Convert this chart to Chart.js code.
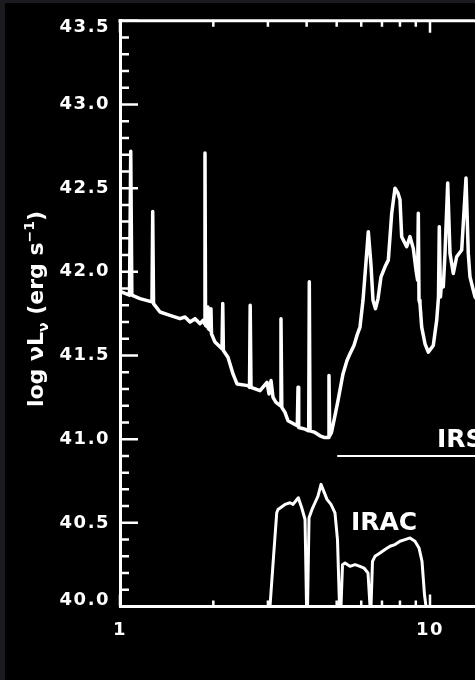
<!DOCTYPE html>
<html>
<head>
<meta charset="utf-8">
<script src="https://cdn.jsdelivr.net/npm/chart.js@4/dist/chart.umd.min.js"></script>
<style>
  html, body { margin: 0; padding: 0; background: #000; overflow: hidden; width: 475px; height: 680px; }
  #wrap { position: relative; width: 475px; height: 680px; overflow: hidden; }
  #c { position: absolute; left: 0; top: 0; }
  #edge { position: absolute; left: 0; top: 0; width: 475px; height: 680px; box-sizing: border-box;
          border-top: 3px solid #1b1b1f; border-left: 5px solid #1b1b1f; pointer-events: none; }
</style>
</head>
<body>
<div id="wrap"><canvas id="c" width="660" height="680"></canvas><div id="edge"></div></div>
<script>
// Spectrum: wavelength (micron) and log nu L_nu (erg/s)
const specWave = [1.01, 1.073, 1.083, 1.092, 1.160, 1.268, 1.275, 1.283, 1.346, 1.449, 1.561, 1.621, 1.682, 1.746,
  1.812, 1.852, 1.873, 1.880, 1.888, 1.915, 1.922, 1.929, 1.958, 1.965, 1.973, 2.025, 2.133, 2.145, 2.155, 2.230,
  2.315, 2.385, 2.588, 2.617, 2.630, 2.646, 2.829, 2.980, 3.025, 3.070, 3.116, 3.186, 3.289, 3.306, 3.326, 3.406,
  3.483, 3.732, 3.752, 3.771, 3.953, 4.062, 4.080, 4.102, 4.256, 4.417, 4.550, 4.698, 4.722, 4.750, 4.811, 4.937,
  5.049, 5.240, 5.398, 5.519, 5.685, 5.813, 5.945, 6.080, 6.217, 6.324, 6.452, 6.548, 6.672, 6.797, 6.950, 7.159,
  7.337, 7.525, 7.711, 7.885, 8.002, 8.103, 8.409, 8.619, 8.833, 9.013, 9.120, 9.168, 9.216, 9.284, 9.402, 9.636,
  9.875, 10.247, 10.510, 10.651, 10.715, 10.811, 10.907, 11.038, 11.179, 11.405, 11.601, 11.890, 12.192, 12.655,
  13.065, 13.289, 13.459, 13.795, 13.97, 14.50];
const specLum = [41.88, 41.86, 42.72, 41.86, 41.84, 41.82, 42.36, 41.81, 41.76, 41.74, 41.72, 41.73, 41.70, 41.72,
  41.69, 41.71, 41.69, 42.71, 41.68, 41.67, 41.79, 41.66, 41.65, 41.78, 41.63, 41.58, 41.54, 41.81, 41.53, 41.49,
  41.39, 41.33, 41.32, 41.31, 41.80, 41.31, 41.29, 41.34, 41.27, 41.35, 41.25, 41.22, 41.20, 41.72, 41.19, 41.16,
  41.11, 41.08, 41.31, 41.07, 41.06, 41.05, 41.94, 41.05, 41.04, 41.02, 41.01, 41.01, 41.38, 41.02, 41.04, 41.14,
  41.23, 41.39, 41.47, 41.51, 41.56, 41.62, 41.67, 41.83, 42.06, 42.24, 42.04, 41.83, 41.78, 41.84, 41.97, 42.03,
  42.07, 42.35, 42.50, 42.47, 42.43, 42.21, 42.15, 42.21, 42.14, 42.01, 41.95, 42.35, 41.83, 41.81, 41.67, 41.57,
  41.52, 41.56, 41.71, 41.85, 42.27, 41.85, 41.95, 41.91, 42.11, 42.53, 42.11, 41.99, 42.09, 42.13,
  42.56, 42.11, 41.97, 41.89, 41.85, 41.81];

// IRAC filter curves (four bands), plotted on the same axes
const iracWave = [3.047, 3.123, 3.203, 3.234, 3.406, 3.535, 3.615, 3.760, 3.856, 3.953, 3.997,
  4.027, 4.072, 4.163, 4.256, 4.352, 4.451, 4.517, 4.653, 4.793, 4.937, 5.030, 5.106,
  5.163, 5.221, 5.319, 5.519, 5.730, 5.945, 6.125, 6.310, 6.405,
  6.452, 6.524, 6.646, 6.898, 7.159, 7.430, 7.711, 8.002, 8.306, 8.619, 8.944, 9.216, 9.424, 9.600, 9.708];
const iracResp = [40.00, 40.28, 40.56, 40.58, 40.61, 40.62, 40.61, 40.65, 40.59, 40.52, 40.00,
  40.00, 40.53, 40.58, 40.62, 40.66, 40.73, 40.70, 40.64, 40.61, 40.56, 40.40, 40.00,
  40.00, 40.25, 40.26, 40.24, 40.25, 40.24, 40.23, 40.20, 40.00,
  40.00, 40.27, 40.30, 40.32, 40.34, 40.36, 40.37, 40.39, 40.40, 40.41, 40.39, 40.35, 40.27, 40.07, 40.00];

// IRS coverage bar
const irsWave = [5.05, 40];
const irsLevel = [40.90, 40.90];

// Axis ranges and labels
const xRange = [1, 40];
const yRange = [40.0, 43.5];
const xTickLabels = [1, 10];
const yTitleParts = ['log \u03bdL', '\u03bd', ' (erg s', '\u22121', ')'];

// Text labels placed in data coordinates
const noteText = ['IRAC', 'IRS'];
const noteWave = [7.11, 10.53];
const noteLum = [40.456, 40.952];

const W = 660, H = 680;
const LEFT = 120, TOP = 20.5, BOTTOM = 606.5;
const RIGHT = LEFT + 310 * Math.log10(xRange[1] / xRange[0]);
const FONT = '"DejaVu Sans", "Liberation Sans", sans-serif';

const toPts = (xs, ys) => xs.map((x, i) => ({ x, y: ys[i] }));
const isMajorY = v => Math.abs(v * 2 - Math.round(v * 2)) < 1e-6;
const isDecade = v => Math.abs(Math.log10(v) - Math.round(Math.log10(v))) < 1e-6;

// Inward ticks on all four sides plus the closing frame lines
const framePlugin = {
  id: 'frameTicks',
  beforeDraw(chart) {
    const ctx = chart.ctx;
    ctx.save();
    ctx.fillStyle = '#000';
    ctx.fillRect(0, 0, chart.width, chart.height);
    ctx.restore();
    // nudge the end labels of the y axis inside the frame
    const items = chart.scales.y.getLabelItems();
    items.forEach(it => {
      if (it._nudged) return;
      if (it.label === yRange[1].toFixed(1)) it.options.translation[1] += 7;
      if (it.label === yRange[0].toFixed(1)) it.options.translation[1] -= 6;
      it._nudged = true;
    });
    ctx.letterSpacing = '1.5px';
  },
  beforeDatasetsDraw(chart) {
    chart.ctx.letterSpacing = '0px';
  },
  afterDraw(chart) {
    const ctx = chart.ctx;
    const { left, right, top, bottom } = chart.chartArea;
    const xs = chart.scales.x, ys = chart.scales.y;
    ctx.save();
    ctx.strokeStyle = '#fff';
    ctx.lineCap = 'butt';
    // frame top and right
    ctx.lineWidth = 3;
    ctx.beginPath();
    ctx.moveTo(left - 1.5, top);
    ctx.lineTo(right, top);
    ctx.lineTo(right, bottom);
    ctx.stroke();
    ctx.lineWidth = 2.5;
    ctx.beginPath();
    ys.ticks.forEach((t, i) => {
      const py = ys.getPixelForTick(i);
      const len = isMajorY(t.value) ? 18 : 9;
      ctx.moveTo(left, py); ctx.lineTo(left + len, py);
      ctx.moveTo(right, py); ctx.lineTo(right - len, py);
    });
    xs.ticks.forEach((t, i) => {
      const px = xs.getPixelForTick(i);
      const len = isDecade(t.value) ? 12 : 6;
      ctx.moveTo(px, bottom); ctx.lineTo(px, bottom - len);
      ctx.moveTo(px, top); ctx.lineTo(px, top + len);
    });
    ctx.stroke();

    // band labels
    ctx.fillStyle = '#fff';
    ctx.font = 'bold 25px ' + FONT;
    ctx.textBaseline = 'alphabetic';
    noteText.forEach((txt, i) => {
      ctx.textAlign = i === 0 ? 'center' : 'left';
      ctx.fillText(txt, xs.getPixelForValue(noteWave[i]), ys.getPixelForValue(noteLum[i]));
    });

    // y-axis title with subscript and superscript
    const big = 'bold 22px ' + FONT, small = 'bold 14px ' + FONT;
    const runs = [
      { t: yTitleParts[0], f: big, dy: 0 },
      { t: yTitleParts[1], f: small, dy: 5 },
      { t: yTitleParts[2], f: big, dy: 0 },
      { t: yTitleParts[3], f: small, dy: -9 },
      { t: yTitleParts[4], f: big, dy: 0 }
    ];
    let total = 0;
    runs.forEach(r => { ctx.font = r.f; r.w = ctx.measureText(r.t).width; total += r.w; });
    ctx.translate(43, 309);
    ctx.rotate(-Math.PI / 2);
    ctx.textAlign = 'left';
    let x = -total / 2;
    runs.forEach(r => { ctx.font = r.f; ctx.fillText(r.t, x, r.dy); x += r.w; });
    ctx.restore();
  }
};

const tickFont = { family: FONT, weight: 'bold', size: 18 };

new Chart(document.getElementById('c'), {
  type: 'line',
  data: {
    datasets: [
      { data: toPts(specWave, specLum), borderColor: '#fff', borderWidth: 3.5 },
      { data: toPts(iracWave, iracResp), borderColor: '#fff', borderWidth: 3 },
      { data: toPts(irsWave, irsLevel), borderColor: '#fff', borderWidth: 2 }
    ]
  },
  options: {
    responsive: false,
    animation: false,
    events: [],
    layout: { padding: { top: TOP, right: W - RIGHT, bottom: 0, left: 0 } },
    plugins: { legend: { display: false }, tooltip: { enabled: false } },
    elements: {
      point: { radius: 0 },
      line: { tension: 0, borderJoinStyle: 'round', borderCapStyle: 'round', fill: false }
    },
    scales: {
      x: {
        type: 'logarithmic', min: xRange[0], max: xRange[1],
        afterFit: s => { s.height = H - BOTTOM; },
        grid: { display: false, drawTicks: false },
        border: { display: true, color: '#fff', width: 3 },
        ticks: {
          autoSkip: false, maxRotation: 0, color: '#fff', font: tickFont, padding: 13,
          callback: v => xTickLabels.some(l => Math.abs(l - v) < 1e-9) ? String(v) : ''
        }
      },
      y: {
        type: 'linear', min: yRange[0], max: yRange[1],
        afterFit: s => { s.width = LEFT; },
        grid: { display: false, drawTicks: false },
        border: { display: true, color: '#fff', width: 3 },
        ticks: {
          stepSize: 0.1, autoSkip: false, color: '#fff', font: tickFont, padding: 10,
          callback: v => isMajorY(v) ? v.toFixed(1) : ''
        }
      }
    }
  },
  plugins: [framePlugin]
});
</script>
</body>
</html>
